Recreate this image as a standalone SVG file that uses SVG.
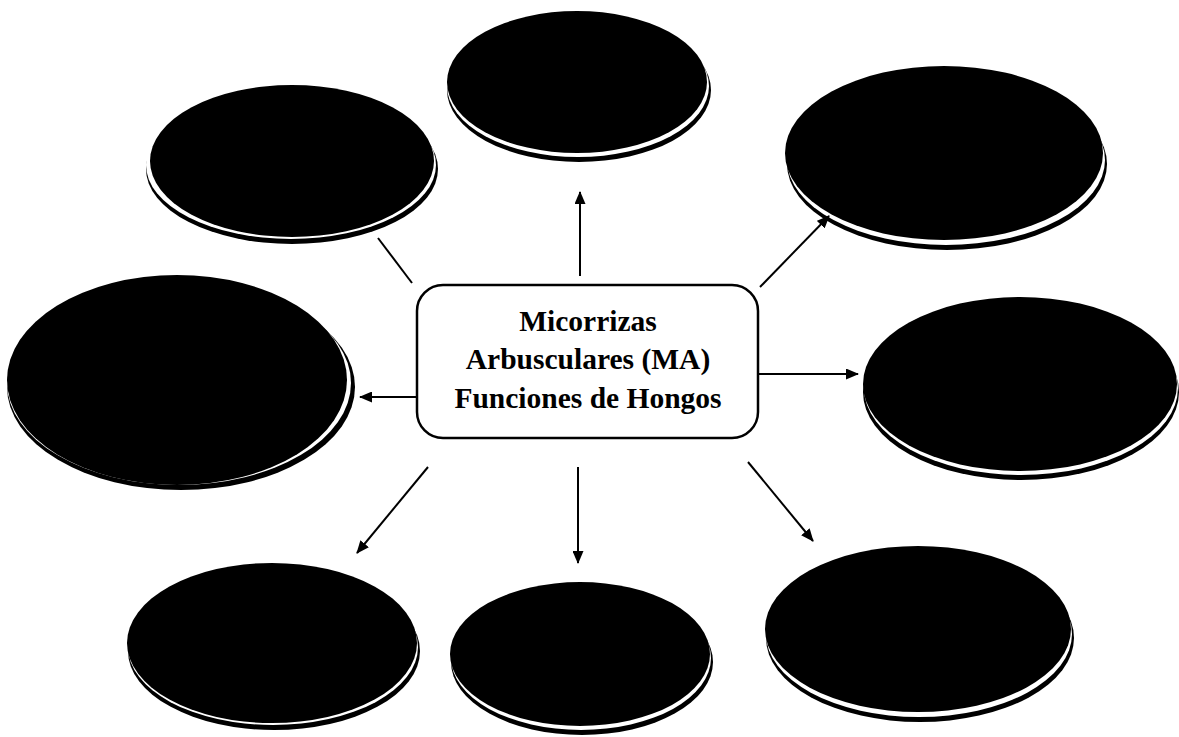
<svg xmlns="http://www.w3.org/2000/svg" width="1179" height="737" viewBox="0 0 1179 737">
<defs>
<style>
.sh{fill:#000}
.gap{fill:#fff}
.el{fill:#000}
.con line{stroke:#000;stroke-width:2;fill:none}
.title{font-family:"Liberation Serif","Times New Roman",serif;font-weight:bold;font-size:29.5px;fill:#000;text-anchor:middle}
</style>
<marker id="ah" viewBox="0 0 13 11" refX="12" refY="5.5" markerWidth="13" markerHeight="11" markerUnits="userSpaceOnUse" orient="auto">
<path d="M0,0 L13,5.5 L0,11 Z" fill="#000"/>
</marker>
</defs>
<rect width="1179" height="737" fill="#fff"/>

<g id="n-top"><ellipse class="sh" cx="579" cy="90" rx="132" ry="72"/><ellipse class="gap" cx="578" cy="86" rx="131" ry="71"/><ellipse class="el" cx="577" cy="82" rx="130" ry="71"/></g>
<g id="n-topleft"><ellipse class="sh" cx="292" cy="169" rx="146" ry="75"/><ellipse class="gap" cx="291" cy="165" rx="145" ry="74"/><ellipse class="el" cx="292" cy="161" rx="142" ry="76"/></g>
<g id="n-topright"><ellipse class="sh" cx="947" cy="164" rx="160" ry="86"/><ellipse class="gap" cx="946" cy="160" rx="159" ry="85"/><ellipse class="el" cx="944" cy="153" rx="159" ry="87"/></g>
<g id="n-left"><ellipse class="sh" cx="181" cy="387" rx="174" ry="103"/><ellipse class="gap" cx="179" cy="383" rx="172" ry="102"/><ellipse class="el" cx="177" cy="380" rx="170" ry="105"/></g>
<g id="n-right"><ellipse class="sh" cx="1021" cy="392" rx="158" ry="88"/><ellipse class="gap" cx="1021" cy="388" rx="157" ry="87"/><ellipse class="el" cx="1020" cy="384" rx="157" ry="87"/></g>
<g id="n-botleft"><ellipse class="sh" cx="274" cy="651" rx="146" ry="79"/><ellipse class="gap" cx="273" cy="647" rx="145" ry="78"/><ellipse class="el" cx="272" cy="643" rx="145" ry="80"/></g>
<g id="n-botcenter"><ellipse class="sh" cx="582" cy="662" rx="131" ry="73"/><ellipse class="gap" cx="581" cy="658" rx="130" ry="72"/><ellipse class="el" cx="580" cy="654" rx="130" ry="72"/></g>
<g id="n-botright"><ellipse class="sh" cx="920" cy="638" rx="154" ry="84"/><ellipse class="gap" cx="919" cy="634" rx="153" ry="83"/><ellipse class="el" cx="918" cy="629" rx="153" ry="83"/></g>

<g id="n-center">
<rect x="417" y="285" width="341" height="153" rx="26" ry="26" fill="#fff" stroke="#000" stroke-width="2.5"/>
<text class="title" x="588" y="331">Micorrizas</text>
<text class="title" x="588" y="369">Arbusculares (MA)</text>
<text class="title" x="588" y="408">Funciones de Hongos</text>
</g>

<g id="connectors" class="con">
<line x1="580" y1="276" x2="580" y2="192" marker-end="url(#ah)"/>
<line x1="412" y1="283" x2="378" y2="238"/>
<line x1="760" y1="287" x2="829" y2="216" marker-end="url(#ah)"/>
<line x1="417" y1="397" x2="360" y2="397" marker-end="url(#ah)"/>
<line x1="758" y1="374" x2="858" y2="374" marker-end="url(#ah)"/>
<line x1="428" y1="467" x2="357" y2="553" marker-end="url(#ah)"/>
<line x1="578" y1="467" x2="578" y2="563" marker-end="url(#ah)"/>
<line x1="748" y1="462" x2="813" y2="541" marker-end="url(#ah)"/>
</g>
</svg>
